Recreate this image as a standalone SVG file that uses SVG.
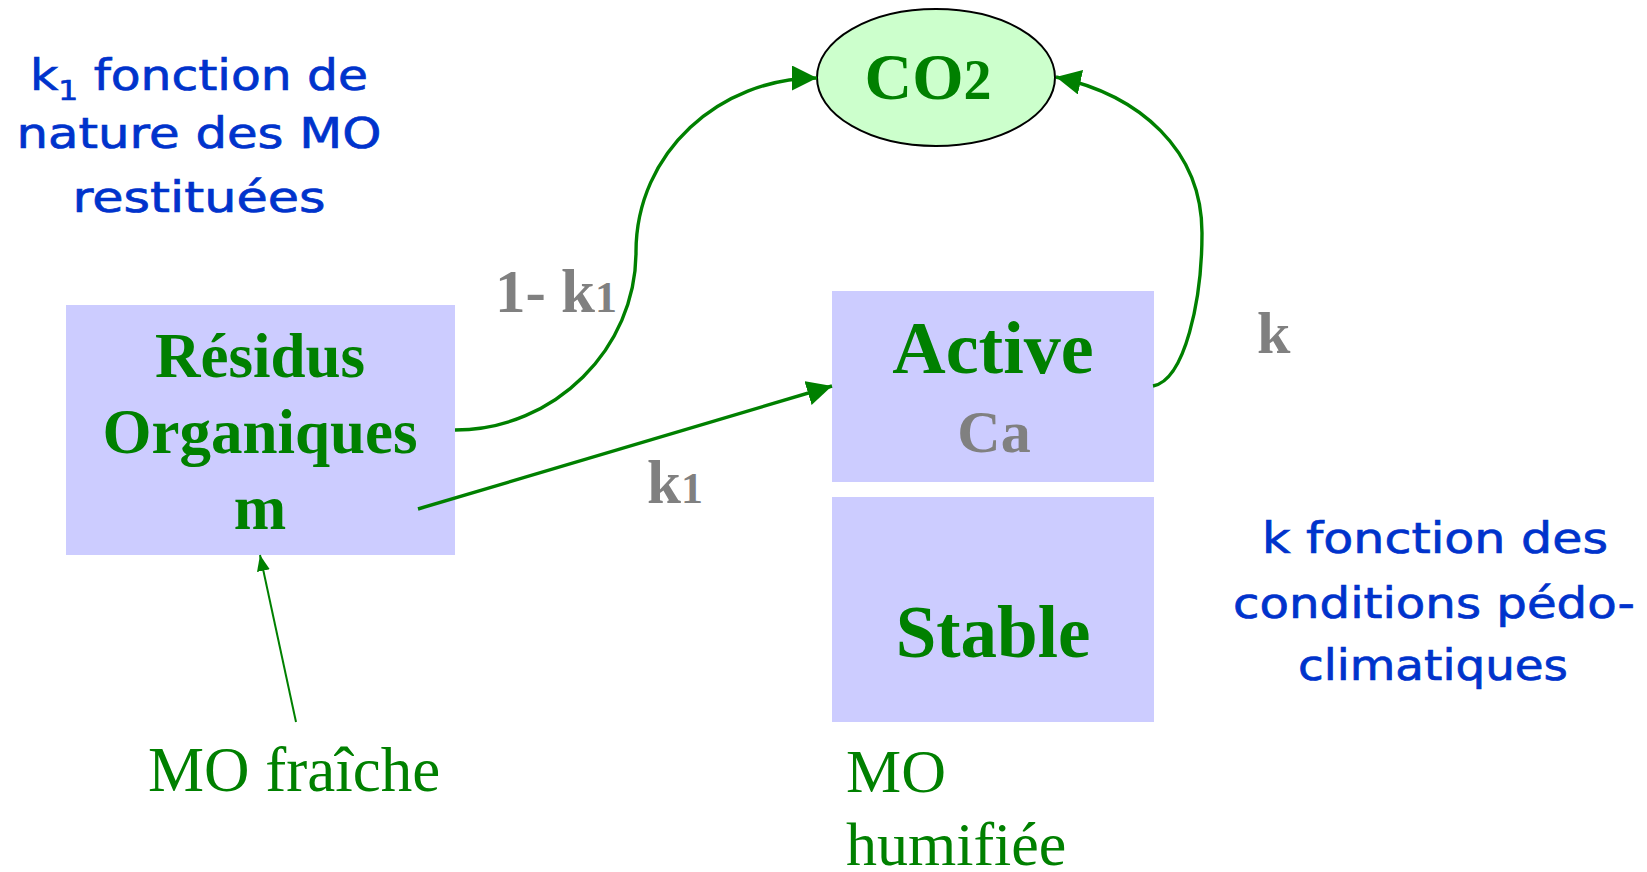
<svg xmlns="http://www.w3.org/2000/svg" width="1647" height="872" viewBox="0 0 1647 872">
<style>
.box{fill:#CCCCFF}
.bold{font-family:"Liberation Serif","Times New Roman",serif;font-weight:bold;fill:#008000;text-anchor:middle}
.gray{font-family:"Liberation Serif","Times New Roman",serif;font-weight:bold;fill:#808080}
.reg{font-family:"Liberation Serif","Times New Roman",serif;fill:#008000}
.note{font-family:"Comic Sans MS","DejaVu Sans",sans-serif;fill:#0033CC;stroke:#0033CC;stroke-width:0.7;font-size:42px;text-anchor:middle}
.conn{fill:none;stroke:#008000;stroke-width:3.4}
.thin{fill:none;stroke:#008000;stroke-width:2}
</style>
<defs>
<marker id="ah" markerUnits="userSpaceOnUse" markerWidth="26" markerHeight="26" refX="25" refY="12.5" orient="auto">
<path d="M0,0 L25,12.5 L0,25 z" fill="#008000"/>
</marker>
<marker id="ahs" markerUnits="userSpaceOnUse" markerWidth="17" markerHeight="14" refX="16" refY="6.5" orient="auto">
<path d="M0,0 L16,6.5 L0,13 z" fill="#008000"/>
</marker>
</defs>
<rect width="1647" height="872" fill="#FFFFFF"/>

<g id="note-k1">
<text class="note" x="199" y="90" textLength="338" lengthAdjust="spacingAndGlyphs">k<tspan font-size="27" dy="10">1</tspan><tspan dy="-10"> fonction de</tspan></text>
<text class="note" x="199" y="148" textLength="365" lengthAdjust="spacingAndGlyphs">nature des MO</text>
<text class="note" x="199" y="212" textLength="253" lengthAdjust="spacingAndGlyphs">restituées</text>
</g>

<g id="note-k">
<text class="note" x="1435" y="553" textLength="346" lengthAdjust="spacingAndGlyphs">k fonction des</text>
<text class="note" x="1434" y="618" textLength="402" lengthAdjust="spacingAndGlyphs">conditions pédo-</text>
<text class="note" x="1433" y="680" textLength="270" lengthAdjust="spacingAndGlyphs">climatiques</text>
</g>

<g id="co2">
<ellipse cx="936" cy="77.5" rx="119" ry="68.5" fill="#CCFFCC" stroke="#000000" stroke-width="2"/>
<text class="bold" x="928" y="99" font-size="66">CO<tspan font-size="56">2</tspan></text>
</g>

<g id="residus">
<rect class="box" x="66" y="305" width="389" height="250"/>
<text class="bold" x="260" y="377" font-size="63">Résidus</text>
<text class="bold" x="260" y="453" font-size="63">Organiques</text>
<text class="bold" x="260" y="529" font-size="63">m</text>
</g>

<g id="active">
<rect class="box" x="832" y="291" width="322" height="191"/>
<text class="bold" x="993" y="373" font-size="74">Active</text>
<text class="gray" x="994" y="452" font-size="60" text-anchor="middle">Ca</text>
</g>

<g id="stable">
<rect class="box" x="832" y="497" width="322" height="225"/>
<text class="bold" x="993" y="657" font-size="73">Stable</text>
</g>

<g id="mo-fraiche">
<text class="reg" x="148" y="791" font-size="63">MO fraîche</text>
</g>

<g id="mo-humifiee">
<text class="reg" x="846" y="792" font-size="62">MO</text>
<text class="reg" x="846" y="865" font-size="62">humifiée</text>
</g>

<g id="connectors">
<path class="conn" d="M455,430 C555,430 636,348 636,252 C636,152 720,78 817,78" marker-end="url(#ah)"/>
<path class="conn" d="M418,509 L832,386" marker-end="url(#ah)"/>
<path class="conn" d="M1153,386 C1185,380 1202,300 1202,233 C1202,150 1140,95 1056,77" marker-end="url(#ah)"/>
<path class="thin" d="M296,722 L260,555" marker-end="url(#ahs)"/>
</g>

<g id="labels">
<text class="gray" x="495" y="312" font-size="61">1- k<tspan font-size="44">1</tspan></text>
<text class="gray" x="647" y="503" font-size="61">k<tspan font-size="44">1</tspan></text>
<text class="gray" x="1257" y="353" font-size="60">k</text>
</g>
</svg>
